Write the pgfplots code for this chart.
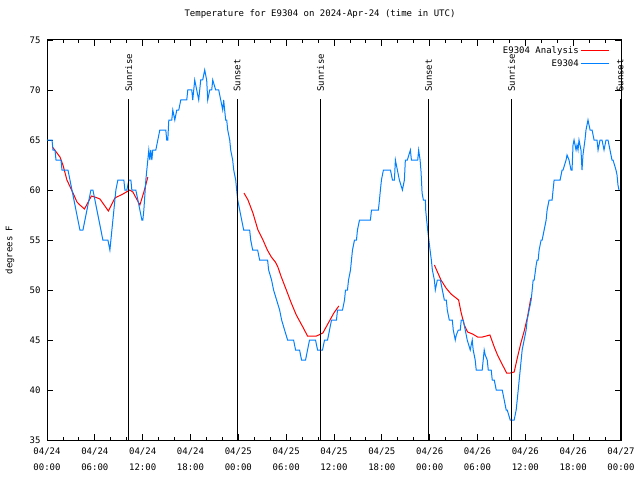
\documentclass[border=0pt]{standalone}
\usepackage{fontspec}
\setmainfont{DejaVu Sans Mono}
\setmonofont{DejaVu Sans Mono}
\usepackage{pgfplots}
\usepackage{pgfplotstable}
\pgfplotsset{compat=1.18}
\usetikzlibrary{calc}
\definecolor{obsblue}{RGB}{0,128,255}
\definecolor{anared}{RGB}{255,0,0}

\pgfplotstableread{
h F
0.00 65
0.63 65
0.75 64
1.00 64
1.13 63
1.75 63
1.88 62
2.63 62
2.88 61
3.13 60
3.38 59
3.63 58
3.88 57
4.13 56
4.51 56
4.76 57
5.01 58
5.26 59
5.51 60
5.76 60
6.01 59
6.26 58
6.51 57
6.76 56
7.01 55
7.64 55
7.89 54
8.14 56
8.39 58
8.64 60
8.89 61
9.64 61
9.77 60
10.02 60
10.27 61
10.52 61
10.64 60
11.14 60
11.40 59
11.65 58
11.90 57
12.02 57
12.15 58
12.40 61
12.52 62
12.77 64
12.90 63
13.02 64
13.15 63
13.27 64
13.65 64
13.90 65
14.15 66
14.90 66
15.02 65
15.15 65
15.28 67
15.65 67
15.78 68
16.03 67
16.28 68
16.53 68
16.78 69
17.53 69
17.66 70
18.16 70
18.28 69
18.53 71
18.78 70
19.03 69
19.28 71
19.53 71
19.78 72
20.03 71
20.16 69
20.41 70
20.66 70
20.79 71
21.16 70
21.54 70
21.79 69
22.04 68
22.16 69
22.41 67
22.54 67
22.67 66
22.92 65
23.04 64
23.29 63
23.42 62
23.67 61
23.79 60
23.92 59
24.17 58
24.42 57
24.67 56
25.42 56
25.55 55
25.80 54
26.42 54
26.67 53
27.67 53
27.80 52
28.17 51
28.42 50
28.80 49
29.18 48
29.43 47
29.80 46
30.18 45
30.93 45
31.18 44
31.68 44
31.93 43
32.43 43
32.68 44
32.93 45
33.68 45
33.94 44
34.56 44
34.81 45
35.19 45
35.44 46
35.69 47
36.31 47
36.44 48
37.07 48
37.32 49
37.44 50
37.69 50
37.82 51
38.07 52
38.19 53
38.32 54
38.57 55
38.82 55
38.94 56
39.20 57
40.57 57
40.70 58
41.57 58
41.70 59
41.82 60
41.95 61
42.20 62
43.08 62
43.33 61
43.58 61
43.70 63
43.95 62
44.20 61
44.58 60
44.83 61
44.95 63
45.20 63
45.58 64
45.71 63
46.50 63
46.62 64
46.80 63
46.92 61.8
47.05 59.7
47.21 59
47.46 59
47.50 58
47.62 57
47.75 56
47.90 55
48.05 54
48.21 53
48.34 52
48.59 51
48.71 50
48.96 51
49.21 51
49.34 51
49.59 50
49.84 49
50.09 49
50.21 48
50.46 47
50.84 47
50.96 46
51.21 45
51.34 45.5
51.59 46
51.84 46
51.96 47
52.21 47
52.46 46
52.71 45
53.09 44
53.21 44.5
53.34 45
53.46 44
53.71 43
53.84 42
54.59 42
54.84 44
54.97 43.5
55.22 43
55.35 42
55.72 42
55.85 41
56.10 41
56.35 40
57.10 40
57.35 39
57.60 38
57.73 38
58.10 37
58.60 37
58.85 38
58.98 39
59.23 41
59.48 43
59.60 44
59.85 45
60.10 46
60.23 47
60.48 48
60.73 49
60.86 50
60.98 51
61.11 51
61.36 52.5
61.48 53
61.61 53
61.73 54
61.98 55
62.11 55
62.36 56
62.61 57
62.73 58
62.98 59
63.36 59
63.48 60
63.61 61
64.36 61
64.61 62
64.73 62
65.11 63
65.23 63.5
65.48 63
65.73 62
65.86 62
65.98 64.5
66.11 65
66.36 64
66.48 64.5
66.61 64
66.73 65
66.98 64
67.11 62
67.23 63.5
67.48 65
67.61 66
67.86 67
68.12 66
68.37 66
68.62 65
68.99 65
69.12 64
69.37 65
69.62 65
69.87 64
70.12 65
70.37 65
70.62 64
70.87 63
71.00 63
71.37 62
71.50 61.5
71.62 60.5
71.75 60
}\obsdata

\pgfplotstableread{
h F
0.69 64.3
1.63 63.3
2.00 62.5
2.50 61.0
3.26 59.7
3.76 58.8
4.13 58.5
4.70 58.1
5.57 59.4
6.01 59.3
6.64 59.1
7.70 57.9
8.51 59.2
9.52 59.6
10.39 60.0
10.77 59.8
11.65 58.5
12.15 59.8
12.65 61.3
nan nan
24.71 59.7
25.21 59.0
25.83 57.7
26.46 56.0
27.09 55.0
27.64 54.0
28.14 53.3
28.64 52.8
28.96 52.3
29.39 51.3
30.02 50.0
30.64 48.7
31.27 47.5
32.09 46.3
32.68 45.4
33.81 45.4
34.60 45.7
35.22 46.6
35.98 47.7
36.60 48.4
nan nan
48.59 52.5
49.42 51.0
50.05 50.2
50.68 49.6
51.63 49.0
51.93 47.8
52.34 46.5
52.76 45.8
53.38 45.6
54.01 45.3
54.63 45.3
55.56 45.5
56.10 44.3
56.51 43.5
57.14 42.5
57.66 41.7
58.10 41.7
58.60 41.8
59.02 43.3
59.44 44.7
59.86 45.9
60.27 47.3
60.69 49.2
}\anadata

\begin{document}
\begin{tikzpicture}
\begin{axis}[
  width=574pt, height=400pt, scale only axis,
  xmin=0, xmax=72, ymin=35, ymax=75,
  xtick={0,6,...,72},
  xticklabels={{04/24\\00:00},{04/24\\06:00},{04/24\\12:00},{04/24\\18:00},
               {04/25\\00:00},{04/25\\06:00},{04/25\\12:00},{04/25\\18:00},
               {04/26\\00:00},{04/26\\06:00},{04/26\\12:00},{04/26\\18:00},
               {04/27\\00:00}},
  minor x tick num=2,
  ytick={35,40,...,75},
  tick align=inside,
  major tick length=6pt, minor tick length=3pt,
  tick style={black, line width=0.8pt},
  axis line style={line width=1pt},
  font=\fontsize{9}{11}\selectfont,
  /pgf/number format/assume math mode=true,
  xticklabel style={align=center, font=\fontsize{9}{16}\selectfont, inner sep=2pt, yshift=-6pt},
  yticklabel style={font=\fontsize{9}{11}\selectfont, xshift=-3pt},
  ylabel={degrees F},
  ylabel style={at={(axis description cs:-0.0645,0.475)}, anchor=center},
  title={Temperature for E9304 on 2024-Apr-24 (time in UTC)},
  title style={at={(axis description cs:0.5,1)}, anchor=center, yshift=20pt, xshift=-14pt, font=\fontsize{9}{11}\selectfont},
  legend style={draw=none, fill=none, at={(axis description cs:1,1)}, anchor=north east,
                xshift=-8pt, yshift=-2pt, font=\fontsize{9}{11}\selectfont,
                row sep=1pt},
  legend cell align=right,
  legend plot pos=right,
  legend image code/.code={\draw[#1] (4pt,0pt) -- (32pt,0pt);},
  unbounded coords=jump,
  clip=false,
]
\addplot[anared, line width=1pt] table[x=h, y=F] {\anadata};
\addlegendentry{E9304 Analysis}
\addplot[obsblue, line width=1pt] table[x=h, y=F] {\obsdata};
\addlegendentry{E9304}

\addplot[black, line width=1pt, forget plot] coordinates {(10.27,35) (10.27,69.1)};
\addplot[black, line width=1pt, forget plot] coordinates {(23.85,35) (23.85,69.1)};
\addplot[black, line width=1pt, forget plot] coordinates {(34.31,35) (34.31,69.1)};
\addplot[black, line width=1pt, forget plot] coordinates {(47.87,35) (47.87,69.1)};
\addplot[black, line width=1pt, forget plot] coordinates {(58.27,35) (58.27,69.1)};
\addplot[black, line width=1pt, forget plot] coordinates {(71.88,35) (71.88,69.1)};

\node[rotate=90, anchor=west, inner sep=0pt, xshift=1pt] at (axis cs:10.27,69.7) {Sunrise};
\node[rotate=90, anchor=west, inner sep=0pt, xshift=1pt] at (axis cs:23.85,69.7) {Sunset};
\node[rotate=90, anchor=west, inner sep=0pt, xshift=1pt] at (axis cs:34.31,69.7) {Sunrise};
\node[rotate=90, anchor=west, inner sep=0pt, xshift=1pt] at (axis cs:47.87,69.7) {Sunset};
\node[rotate=90, anchor=west, inner sep=0pt, xshift=1pt] at (axis cs:58.27,69.7) {Sunrise};
\node[rotate=90, anchor=west, inner sep=0pt, xshift=1pt] at (axis cs:71.88,69.7) {Sunset};

\coordinate (bl) at (rel axis cs:0,0);
\coordinate (tr) at (rel axis cs:1,1);
\end{axis}
\pgfresetboundingbox
\path[use as bounding box] ($(bl)+(-47pt,-40pt)$) rectangle ($(tr)+(19pt,40pt)$);
\end{tikzpicture}
\end{document}
